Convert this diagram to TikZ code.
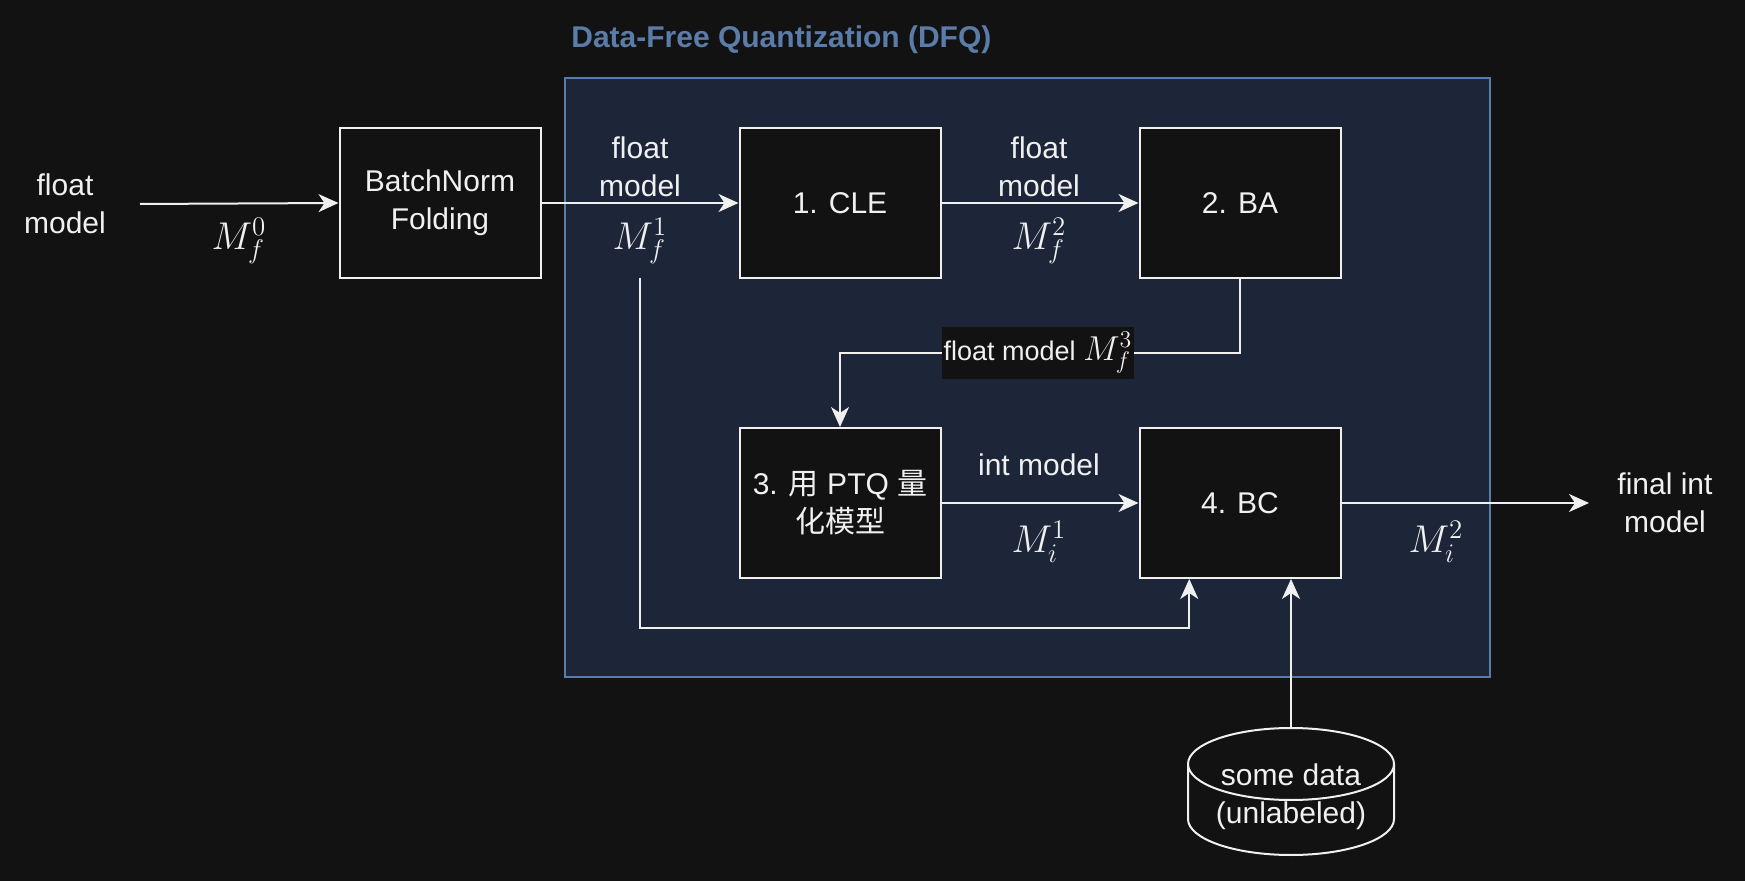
\documentclass[tikz,border=0pt]{standalone}
\usepackage{fontspec}
\setmainfont{Liberation Sans}
\newfontfamily\cjk{Noto Sans CJK SC}
\usetikzlibrary{arrows.meta,calc}
\definecolor{bg}{HTML}{121212}
\definecolor{fg}{HTML}{F0F0F0}
\definecolor{cfill}{HTML}{1D2639}
\definecolor{cline}{HTML}{5B7BA8}
\newcommand{\mymathlbl}[1]{\scalebox{1.12}{$#1$}}
\begin{document}
\begin{tikzpicture}[x=0.5pt,y=-0.5pt,
  every node/.style={text=fg, font=\fontsize{15}{19}\selectfont, inner sep=0pt, align=center},
  box/.style={draw=fg, fill=bg, line width=1pt, minimum width=100.5pt, minimum height=75pt},
  arr/.style={draw=fg, line width=1pt, -{Stealth[length=10pt,width=9pt,inset=3pt]}},
  wire/.style={draw=fg, line width=1pt},
  mth/.style={font=\fontsize{17.28}{22}\selectfont}]
\fill[bg] (0,0) rectangle (1745,881);
\useasboundingbox (0,0) rectangle (1745,881);
% container
\node[draw=cline, fill=cfill, line width=1pt, minimum width=462.5pt, minimum height=299.5pt] (dfq) at (1027.5,377.5) {};
\node[anchor=west, text=cline, font=\bfseries\fontsize{15}{19}\selectfont] (title) at (571,40) {Data-Free Quantization (DFQ)};
% boxes
\node[box] (bn) at (440,203) {BatchNorm\\Folding};
\node[box] (cle) at (840,203) {1. CLE};
\node[box] (ba) at (1240,203) {2. BA};
\node[box] (ptq) at (840,503) {3. {\cjk 用} PTQ {\cjk 量}\\{\cjk 化模型}};
\node[box] (bc) at (1240,503) {4. BC};
% free texts
\node (inp) at (65,204) {float\\model};
\node (fin) at (1665,503) {final int\\model};
\node (t1) at (640,167) {float\\model};
\node (t2) at (1039,167) {float\\model};
\node (t3) at (1039,465) {int model};
\node[mth] (m0) at (239,241) {\mymathlbl{M_f^0}};
\node[mth] (m1) at (640,241) {\mymathlbl{M_f^1}};
\node[mth] (m2) at (1039,241) {\mymathlbl{M_f^2}};
\node[mth] (mi1) at (1039,542) {\mymathlbl{M_i^1}};
\node[mth] (mi2) at (1436,542) {\mymathlbl{M_i^2}};
% coordinates
\coordinate (inpe) at (140,204);
\coordinate (fine) at (1589,503);
\coordinate (split) at (640,278);
\coordinate (datatop) at (1291,729);
\coordinate (bcq) at ($(bc.south west)!0.25!(bc.south east)$);
% cylinder
\fill[bg] (1188,764) -- (1188,819) arc[start angle=180, end angle=0, x radius=103, y radius=36] -- (1394,764) -- cycle;
\draw[fg, line width=1pt] (1188,764) -- (1188,819) arc[start angle=180, end angle=0, x radius=103, y radius=36] -- (1394,764);
\draw[fg, line width=1pt, fill=bg] (1291,764) ellipse [x radius=103, y radius=36];
\node (data) at (1291,797) {some data\\(unlabeled)};
% connectors
\draw[arr] (inpe) -- (bn.west);
\draw[arr] (bn.east) -- (cle.west);
\draw[arr] (cle.east) -- (ba.west);
\draw[arr] (ptq.east) -- (bc.west);
\draw[arr] (bc.east) -- (fine);
\draw[arr] (ba.south) |- (ptq.north |- 0,353) -- (ptq.north);
\node[fill=bg, inner xsep=1pt, inner ysep=2.5pt, font=\fontsize{13.5}{16}\selectfont] (l3) at (1038,353) {float model {\fontsize{17.28}{18}\selectfont$M_f^3$}};
\draw[arr] (split) -- (640,628) -- (bcq |- 0,628) -- (bcq);
\draw[arr] (datatop) -- (datatop |- bc.south);
\end{tikzpicture}
\end{document}
